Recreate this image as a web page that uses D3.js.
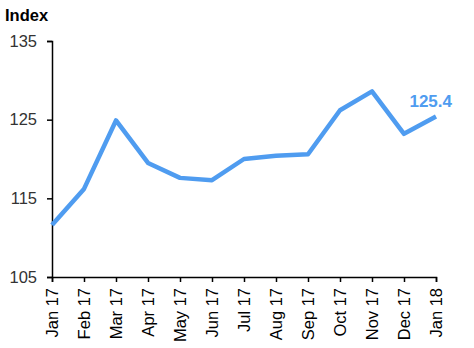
<!DOCTYPE html>
<html>
<head>
<meta charset="utf-8">
<script src="https://cdn.jsdelivr.net/npm/d3@7"></script>
<style>
  body { margin: 0; background: #fff; }
  svg text { font-family: "Liberation Sans", Arial, sans-serif; }
</style>
</head>
<body>
<div id="chart"></div>
<script>
var months = ["Jan 17", "Feb 17", "Mar 17", "Apr 17", "May 17", "Jun 17", "Jul 17",
  "Aug 17", "Sep 17", "Oct 17", "Nov 17", "Dec 17", "Jan 18"];
var index = [111.6, 116.2, 124.9, 119.5, 117.6, 117.3, 120.0, 120.4, 120.6, 126.2, 128.6, 123.2, 125.4];
var yTicks = [105, 115, 125, 135];

var svg = d3.select("#chart")
  .append("svg")
  .attr("width", 474)
  .attr("height", 348);

var x = d3.scalePoint()
  .domain(months)
  .range([52, 436]);

var y = d3.scaleLinear()
  .domain([105, 135])
  .range([277, 41]);

var yAxis = svg.append("g")
  .attr("transform", "translate(52,0)")
  .call(d3.axisLeft(y).tickValues(yTicks).tickSize(5).tickPadding(10));

var xAxis = svg.append("g")
  .attr("transform", "translate(0,277)")
  .call(d3.axisBottom(x).tickSize(5).tickPadding(6));

svg.selectAll(".domain, .tick line")
  .attr("stroke", "#000")
  .attr("stroke-width", 1.5);

yAxis.selectAll("text")
  .attr("font-size", 16.5)
  .attr("fill", "#333");

xAxis.selectAll("text")
  .attr("font-size", 16.5)
  .attr("fill", "#000")
  .attr("transform", "rotate(-90)")
  .attr("text-anchor", "end")
  .attr("x", -11)
  .attr("y", 0)
  .attr("dy", "0.35em");

svg.append("text")
  .attr("x", 5)
  .attr("y", 21)
  .attr("font-size", 16.5)
  .attr("font-weight", "bold")
  .text("Index");

var line = d3.line()
  .x((d, i) => x(months[i]))
  .y((d) => y(d));

svg.append("path")
  .datum(index)
  .attr("fill", "none")
  .attr("stroke", "#4f9cf0")
  .attr("stroke-width", 4.5)
  .attr("stroke-linejoin", "round")
  .attr("d", line);

svg.append("text")
  .attr("x", x(months[12]) + 16)
  .attr("y", y(index[12]) - 10)
  .attr("text-anchor", "end")
  .attr("font-size", 17)
  .attr("font-weight", "bold")
  .attr("fill", "#4f9cf0")
  .text(index[12].toFixed(1));
</script>
</body>
</html>
